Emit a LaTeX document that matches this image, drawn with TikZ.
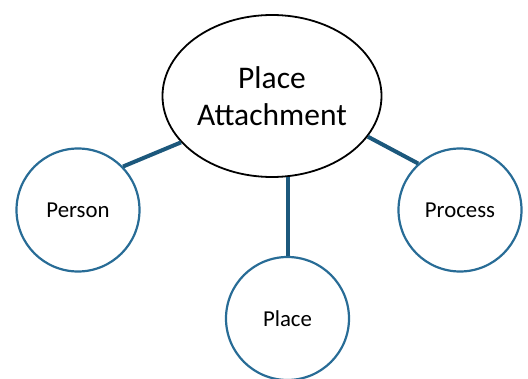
\documentclass[tikz,border=0pt]{standalone}
\usepackage{fontspec}
\setmainfont{Carlito}
\usepackage{tikz}
\usetikzlibrary{shapes.geometric}
\definecolor{ringblue}{RGB}{40,108,150}
\definecolor{linkblue}{RGB}{28,88,124}
\tikzstyle{hub} = [ellipse,draw=black,line width=1.8pt,inner sep=0pt,minimum width=219pt,minimum height=162pt,align=center,font=\fontsize{31.5}{37.5}\selectfont]
\tikzstyle{bubble} = [circle,draw=ringblue,line width=2.2pt,inner sep=0pt,minimum size=123pt,font=\fontsize{22.8}{27}\selectfont]
\tikzstyle{link} = [draw=linkblue,line width=4pt]

\begin{document}
\begin{tikzpicture}[x=1pt,y=1pt]
\useasboundingbox (0,0) rectangle (528,378);
\node[hub] (pa) at (272,282) {Place\\Attachment};
\node[bubble] (person) at (78,168) {Person};
\node[bubble] (place) at (287.5,59.5) {Place};
\node[bubble] (process) at (460,168) {Process};
\draw[link] (person.44) -- (pa.207);
\draw[link] (place.north) -- (place.north |- pa.281);
\draw[link] (process.132) -- (pa.337);
\end{tikzpicture}
\end{document}
